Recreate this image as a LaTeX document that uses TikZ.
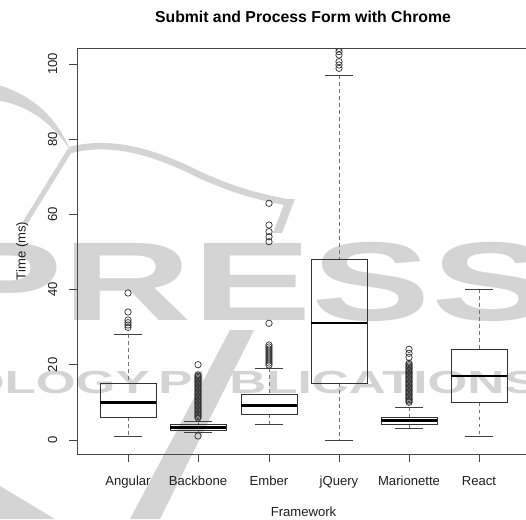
\documentclass[tikz,border=0pt]{standalone}
\usepackage{fontspec}
\setmainfont{Liberation Sans}
\newcommand\bxp[6]{% x, whisker hi, q3, median, q1, whisker lo (pixel y)
  \draw[whisk] (#1,#2) -- (#1,#3);
  \draw[whisk] (#1,#5) -- (#1,#6);
  \draw[staple] (#1-14,#2) -- (#1+14,#2);
  \draw[staple] (#1-14,#6) -- (#1+14,#6);
  \draw[boxline] (#1-28,#3) rectangle (#1+28,#5);
  \draw[medline] (#1-28,#4) -- (#1+28,#4);
}
\begin{document}
\begin{tikzpicture}[x=1pt,y=-1pt,
  wm/.style={black!17},
  frameline/.style={draw=black!72,line width=0.9pt},
  boxline/.style={draw=black!80,line width=0.8pt},
  medline/.style={draw=black,line width=2.6pt},
  whisk/.style={draw=black!55,line width=0.8pt,dash pattern=on 3.5pt off 3.5pt},
  staple/.style={draw=black!75,line width=0.8pt},
  outl/.style={draw=black!80,line width=0.7pt},
  axlab/.style={font=\fontsize{13.1}{15}\selectfont,text=black!88,inner sep=0pt},
  ]
\useasboundingbox (0,0) rectangle (526,519);
\clip (0,0) rectangle (526,519);
% ---- watermark ----
\node[text=black!17,anchor=base west,inner sep=0,xscale=1.6,font=\bfseries\fontsize{112}{112}\selectfont] (wmpress) at (-57,320) {PRESS};
\node[text=black!17,anchor=base east,inner sep=0,xscale=1.6,font=\bfseries\fontsize{32}{32}\selectfont] (wmtech) at (150,393) {TECHNOLOGY};
\node[text=black!17,anchor=base west,inner sep=0,xscale=1.6,font=\bfseries\fontsize{32}{32}\selectfont] (wmpub) at (158,393) {PUBLICATIONS};
\fill[wm] (-5,84) .. controls (25,92) and (55,112) .. (70,150)
  .. controls (50,120) and (25,104) .. (-5,100) -- cycle;
\draw[wm,line width=6.5pt] (70,150) .. controls (110,140) and (150,150) .. (200,175)
  .. controls (240,193) and (265,198) .. (291,203);
\fill[wm] (286,199) -- (295,199) -- (282,233) -- (273,233) -- cycle;
\draw[wm,line width=5pt] (70,150) -- (25,223);
\fill[wm] (230,330) -- (254,330) -- (160,519) -- (130,519) -- cycle;
\fill[wm] (0,486) -- (55,519) -- (0,519) -- cycle;
% ---- frame and axes ----
\draw[frameline] (77,48) rectangle (531,454);
\foreach \v/\yy in {0/440,20/364.8,40/289.6,60/214.4,80/139.2,100/64}{
  \draw[frameline] (77,\yy) -- (69,\yy);
  \node[axlab,rotate=90,anchor=base] (yl\v) at (57,\yy) {\v};
}
\foreach \xx/\lab [count=\i] in {128/Angular,198/Backbone,269/Ember,339/jQuery,409/Marionette,479/React}{
  \draw[frameline] (\xx,454) -- (\xx,462);
  \node[axlab,anchor=base] (xl\i) at (\xx,485) {\lab};
}
\node[axlab,rotate=90,anchor=base] (ylab) at (25.5,251) {Time (ms)};
\node[axlab,anchor=base] (xlab) at (303.5,516) {Framework};
\node[font=\bfseries\fontsize{15.8}{18}\selectfont,anchor=base,inner sep=0] (title) at (303,22.5) {Submit and Process Form with Chrome};
% ---- boxes ----
\begin{scope}
\clip (77,48) rectangle (531,454);
\bxp{128}{334.3}{383.3}{402.3}{417.3}{436}
\bxp{198}{421}{424.3}{427.7}{430}{432.7}
\bxp{269}{368.3}{394.3}{405.7}{414}{424.3}
\bxp{339}{75}{259.3}{323}{383.3}{440}
\bxp{409}{407.3}{417.3}{420.7}{424.5}{428.7}
\bxp{479}{289.3}{349.3}{376}{402.7}{436}
% outliers
\foreach \yy in {293,312,320,322.7,325,327.3} \draw[outl] (128,\yy) circle[radius=3.2];
\foreach \yy in {364.7,375,376.3,...,419,436} \draw[outl] (198,\yy) circle[radius=3.2];
\foreach \yy in {203.3,225,231.7,236.7,241.7,323.3,345,347,...,366} \draw[outl] (269,\yy) circle[radius=3.2];
\foreach \yy in {48.5,51.7,55,61.7,65,68.3} \draw[outl] (339,\yy) circle[radius=3.2];
\foreach \yy in {349.3,353.3,357.3,363.3,364.6,...,403.3} \draw[outl] (409,\yy) circle[radius=3.2];
\end{scope}
\end{tikzpicture}
\end{document}
